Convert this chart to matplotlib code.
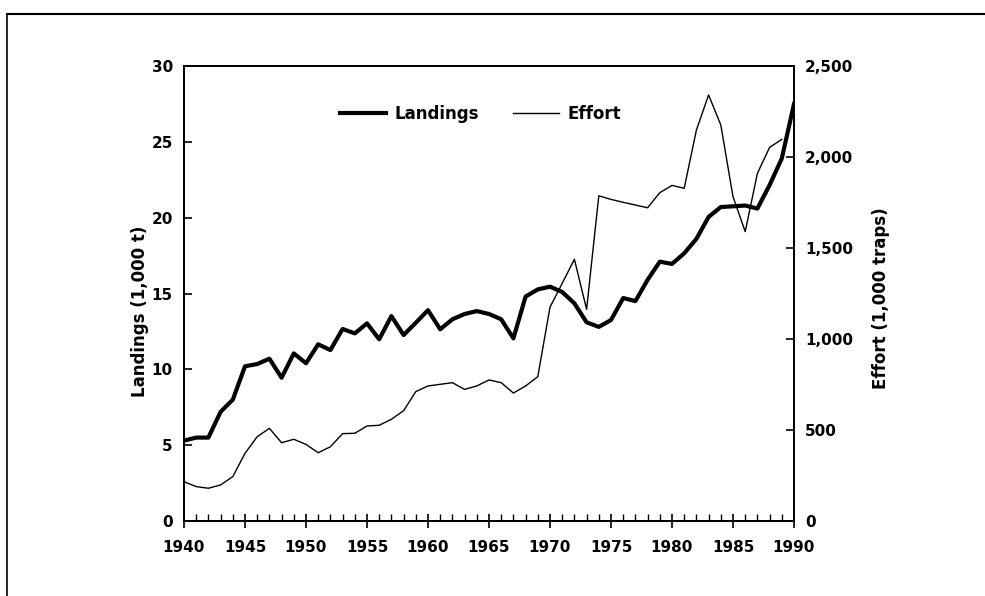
import matplotlib
matplotlib.use("Agg")
import matplotlib.pyplot as plt
from matplotlib.lines import Line2D
from matplotlib.ticker import MultipleLocator, FuncFormatter

plt.rcParams['font.family'] = ['DejaVu Sans']
plt.rcParams['font.weight'] = 'bold'

years = list(range(1940, 1991))
landings = [5.3, 5.5, 5.5, 7.2, 8.0, 10.2, 10.35, 10.7, 9.45, 11.05,
            10.4, 11.65, 11.27, 12.66, 12.37, 13.03, 11.98, 13.51, 12.26, 13.07,
            13.9, 12.64, 13.3, 13.65, 13.84, 13.65, 13.3, 12.04, 14.8, 15.27,
            15.45, 15.1, 14.35, 13.1, 12.8, 13.25, 14.7, 14.5, 15.9, 17.1,
            16.95, 17.65, 18.6, 20.05, 20.7, 20.75, 20.8, 20.6, 22.15, 23.9,
            27.5]
effort_years = list(range(1940, 1990))
effort = [216, 189, 180, 198, 244, 372, 463, 509, 430, 449,
          421, 375, 408, 480, 482, 522, 526, 559, 606, 711,
          742, 751, 760, 723, 742, 775, 760, 703, 742, 793,
          1175, 1306, 1438, 1163, 1787, 1767, 1751, 1736, 1721, 1804,
          1844, 1828, 2148, 2341, 2176, 1782, 1590, 1910, 2053, 2097]

fig = plt.figure(figsize=(9.85, 5.96), dpi=100)
ax = fig.add_axes([184/985, 1 - 521/596, 610/985, 455/596])
ax2 = ax.twinx()

l1, = ax.plot(years, landings, color='black', lw=3.0, solid_joinstyle='round')
l2, = ax2.plot(effort_years, effort, color='black', lw=1.0)

ax.set_xlim(1940, 1990)
ax.set_ylim(0, 30)
ax2.set_ylim(0, 2500)

ax.xaxis.set_major_locator(MultipleLocator(5))
ax.xaxis.set_minor_locator(MultipleLocator(1))
ax.yaxis.set_major_locator(MultipleLocator(5))
ax2.yaxis.set_major_locator(MultipleLocator(500))
ax2.yaxis.set_major_formatter(FuncFormatter(lambda v, p: f"{int(v):,}"))

ax.tick_params(axis='x', which='major', direction='inout', length=10, width=1.2,
               labelsize=11, pad=9)
ax.tick_params(axis='x', which='minor', direction='in', length=5, width=1.0)
ax.tick_params(axis='y', direction='in', length=6, width=1.2, labelsize=11, pad=8)
ax2.tick_params(axis='y', direction='in', length=6, width=1.2, labelsize=11, pad=8)

for a in (ax, ax2):
    for s in a.spines.values():
        s.set_linewidth(1.4)

ax.set_ylabel('Landings (1,000 t)', fontsize=12, fontweight='bold')
ax2.set_ylabel('Effort (1,000 traps)', fontsize=12, fontweight='bold')
ax.yaxis.set_label_coords(-0.058, 0.46)
ax2.yaxis.set_label_coords(1.128, 0.49)

ax.legend([l1, l2], ['Landings', 'Effort'], loc='center', bbox_to_anchor=(0.486, 0.895),
          ncol=2, frameon=False, fontsize=12, handlelength=2.8, handletextpad=0.5,
          columnspacing=2.0)

# outer frame of the page
fig.add_artist(Line2D([7/985, 1.0], [1 - 14/596, 1 - 14/596], transform=fig.transFigure,
                      color='black', lw=1.5))
fig.add_artist(Line2D([7/985, 7/985], [0, 1 - 14/596], transform=fig.transFigure,
                      color='black', lw=1.2))

fig.savefig('out.png', dpi=100)
